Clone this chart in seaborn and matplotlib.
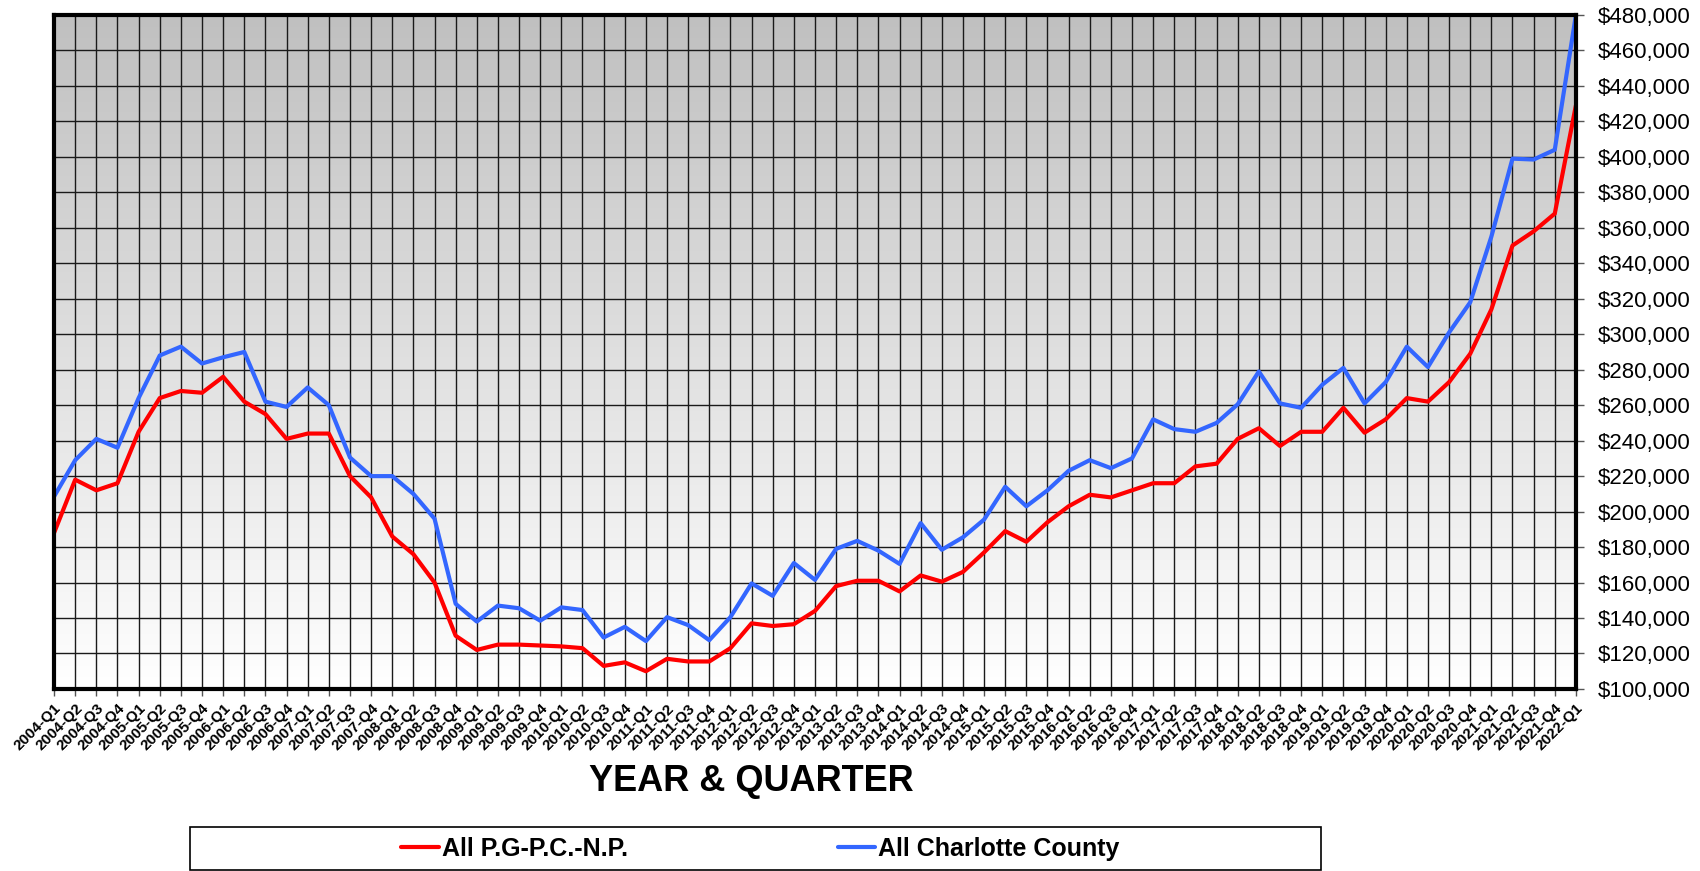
import numpy as np
import pandas as pd
import matplotlib
matplotlib.use("Agg")
import matplotlib.pyplot as plt
from matplotlib.colors import LinearSegmentedColormap
from matplotlib.patches import Rectangle
from matplotlib.ticker import FuncFormatter, MultipleLocator
import seaborn as sns

sns.set_style("white")
plt.rcParams["font.family"] = ["Liberation Sans", "DejaVu Sans"]
plt.rcParams["text.color"] = "black"
plt.rcParams["xtick.labelcolor"] = "black"
plt.rcParams["ytick.labelcolor"] = "black"

# ---------------------------------------------------------------- data
years = list(range(2004, 2023))
quarters = [f"{y}-Q{q}" for y in years for q in range(1, 5)][:73]  # 2004-Q1 .. 2022-Q1

pgpc = [188, 218, 212, 216, 245, 264, 268, 267, 276, 262, 255, 241,
        244, 244, 220, 208, 186, 176, 160, 130, 122, 125, 125, 124.5,
        124, 123, 113, 115, 110, 117, 115.5, 115.5, 123, 137, 135.5, 136.5,
        144, 158, 161, 161, 155, 164, 160.5, 166, 177, 189, 183, 194,
        203, 209.5, 208, 212, 216, 216, 225.5, 227, 241, 247, 237, 245,
        245, 258.5, 244.5, 252, 264, 262, 273, 289, 314, 350, 358, 368,
        429]
charlotte = [208.5, 229, 241, 236, 264, 288, 293, 283.5, 287, 290, 262, 259,
             270, 260, 230.5, 220, 220, 210, 196, 148, 138, 147, 145.5, 138.5,
             146, 144.5, 129, 135, 127, 140.5, 136, 127.5, 140.5, 159.5, 152.5, 171,
             161.5, 179, 183.5, 178, 170.5, 193.5, 178.5, 185.5, 195.5, 214, 203, 212,
             223, 229, 224.5, 230, 252, 246.5, 245, 250, 260.5, 279, 261, 258.5,
             271.5, 281, 261, 273, 293, 281.5, 301, 318, 355, 399, 398.5, 404,
             480]

series_names = ["All P.G-P.C.-N.P.", "All Charlotte County"]
colors = ["#ff0000", "#3366ff"]

idx = np.arange(len(quarters))
df = pd.DataFrame({
    "idx": np.concatenate([idx, idx]),
    "price": np.array(pgpc + charlotte) * 1000,
    "series": [series_names[0]] * len(idx) + [series_names[1]] * len(idx),
})

# ---------------------------------------------------------------- figure
fig = plt.figure(figsize=(17, 8.71), dpi=100)
ax = fig.add_axes([0.0318, 0.209, 0.8952, 0.7738])

ymin, ymax = 100000, 480000
xmax = len(quarters) - 1

# grey-to-white vertical gradient
bg = LinearSegmentedColormap.from_list("bg", ["#c0c0c0", "#ffffff"])
ax.imshow(np.linspace(0, 1, 256).reshape(-1, 1), cmap=bg, aspect="auto",
          extent=[0, xmax, ymin, ymax], zorder=0, interpolation="bilinear")

sns.lineplot(data=df, x="idx", y="price", hue="series", palette=colors,
             linewidth=3, ax=ax, legend=True, zorder=4, sort=False)
handles, labels = ax.get_legend_handles_labels()
ax.get_legend().remove()

ax.set_xlim(0, xmax)
ax.set_ylim(ymin, ymax)

# grid: every quarter, every $20k
ax.set_xticks(idx)
ax.yaxis.set_major_locator(MultipleLocator(20000))
ax.grid(True, which="major", color="#1a1a1a", linewidth=1.0)
ax.set_axisbelow(False)

ax.yaxis.tick_right()
ax.yaxis.set_major_formatter(FuncFormatter(lambda v, p: f"${v:,.0f}"))
ax.tick_params(axis="y", right=True, length=6, width=1, pad=10,
               labelsize=16, color="#555555")
ax.tick_params(axis="x", bottom=True, length=5, width=1, pad=4, color="#555555")
ax.set_xticklabels(quarters, rotation=45, ha="right", rotation_mode="anchor",
                   fontsize=11, fontweight="bold")
ax.set_xlabel("")
ax.set_ylabel("")

for side in ["left", "right", "top", "bottom"]:
    ax.spines[side].set_visible(True)
    ax.spines[side].set_color("black")
    ax.spines[side].set_linewidth(3)
    ax.spines[side].set_zorder(5)

fig.text(751 / 1700, 1 - 781 / 871, "YEAR & QUARTER", ha="center", va="center",
         fontsize=26, fontweight="bold")

# legend box
fig.patches.append(Rectangle((190 / 1700, 1 - 870 / 871), (1321 - 190) / 1700,
                             (870 - 827) / 871, transform=fig.transFigure,
                             facecolor="white", edgecolor="black", linewidth=1.2))
fig.legend(handles, labels, loc="center left",
           bbox_to_anchor=(401 / 1700, 1 - 849 / 871), ncol=2, frameon=False,
           prop={"weight": "bold", "size": 18}, handlelength=1.5,
           handletextpad=0.12, columnspacing=8.4, borderaxespad=0, borderpad=0)

plt.savefig("out.png", dpi=100)
plt.close()
